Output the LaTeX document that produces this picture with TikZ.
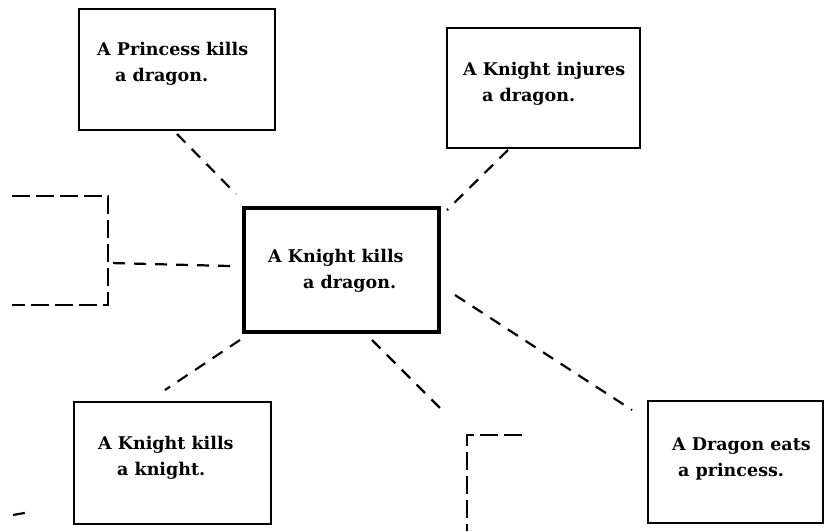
\documentclass[tikz,border=0pt]{standalone}
\usepackage{fontspec}
\newfontfamily\phrasefont{DejaVu Serif}
\begin{document}
\begin{tikzpicture}[x=1pt,y=-1pt,
  sentence/.style={draw=black,line width=1.9pt,fill=white},
  focus/.style={draw=black,line width=4.4pt},
  phrase/.style={anchor=base west,inner sep=0pt,align=left,font=\phrasefont\bfseries\fontsize{17.5}{26}\selectfont},
  link/.style={line width=2.2pt,dash pattern=on 12pt off 9pt},
  partial/.style={line width=2.4pt,dash pattern=on 18pt off 6pt}]
\useasboundingbox (0,0) rectangle (828,531);
\fill[white] (0,0) rectangle (828,531);

% sentence boxes
\node[sentence,minimum width=196pt,minimum height=121pt,anchor=north west] (princess) at (78,8) {};
\node[sentence,minimum width=193pt,minimum height=120pt,anchor=north west] (injures) at (446,27) {};
\node[focus,minimum width=195pt,minimum height=124pt,anchor=north west] (centre) at (242,206) {};
\node[sentence,minimum width=197pt,minimum height=122pt,anchor=north west] (kknight) at (73,401) {};
\node[sentence,minimum width=175pt,minimum height=122pt,anchor=north west] (deats) at (647,400) {};

% sentence texts (anchored on the baseline of the second line)
\node[phrase] (tprincess) at (97,81) {A Princess kills\\\hspace*{18pt}a dragon.};
\node[phrase] (tinjures) at (463,101) {A Knight injures\\\hspace*{19pt}a dragon.};
\node[phrase] (tcentre) at (268,288) {A Knight kills\\\hspace*{35pt}a dragon.};
\node[phrase] (tkknight) at (98,475) {A Knight kills\\\hspace*{19pt}a knight.};
\node[phrase] (tdeats) at (672,476) {A Dragon eats\\\hspace*{6pt}a princess.};

% partly shown boxes at the edges
\coordinate (lbtop) at (12,196);
\coordinate (lbtr) at (108,196);
\coordinate (lbbr) at (108,305);
\coordinate (lbbot) at (12,305);
\draw[partial] (lbtop) -- (lbtr) -- (lbbr) -- (lbbot);
\coordinate (lbport) at (110,263);

\coordinate (bbtop) at (522,435);
\coordinate (bbcorner) at (467,435);
\coordinate (bbbot) at (467,531);
\draw[partial] (bbtop) -- (bbcorner) -- (bbbot);

% links from the central sentence
\coordinate (c1) at (177,134);
\coordinate (c2) at (236,194);
\draw[link] (c1) -- (c2);
\coordinate (c3) at (508,150);
\coordinate (c4) at (447,210);
\draw[link] (c3) -- (c4);
\coordinate (c5) at (230,266);
\draw[link] (c5) -- (lbport);
\coordinate (c6) at (240,340);
\coordinate (c7) at (165,390);
\draw[link] (c6) -- (c7);
\coordinate (c8) at (372,340);
\coordinate (c9) at (446,414);
\draw[link] (c8) -- (c9);
\coordinate (c10) at (455,295);
\coordinate (c11) at (632,410);
\draw[link] (c10) -- (c11);
\coordinate (c12) at (13,515);
\coordinate (c13) at (30,512);
\draw[link] (c12) -- (c13);
\end{tikzpicture}
\end{document}
